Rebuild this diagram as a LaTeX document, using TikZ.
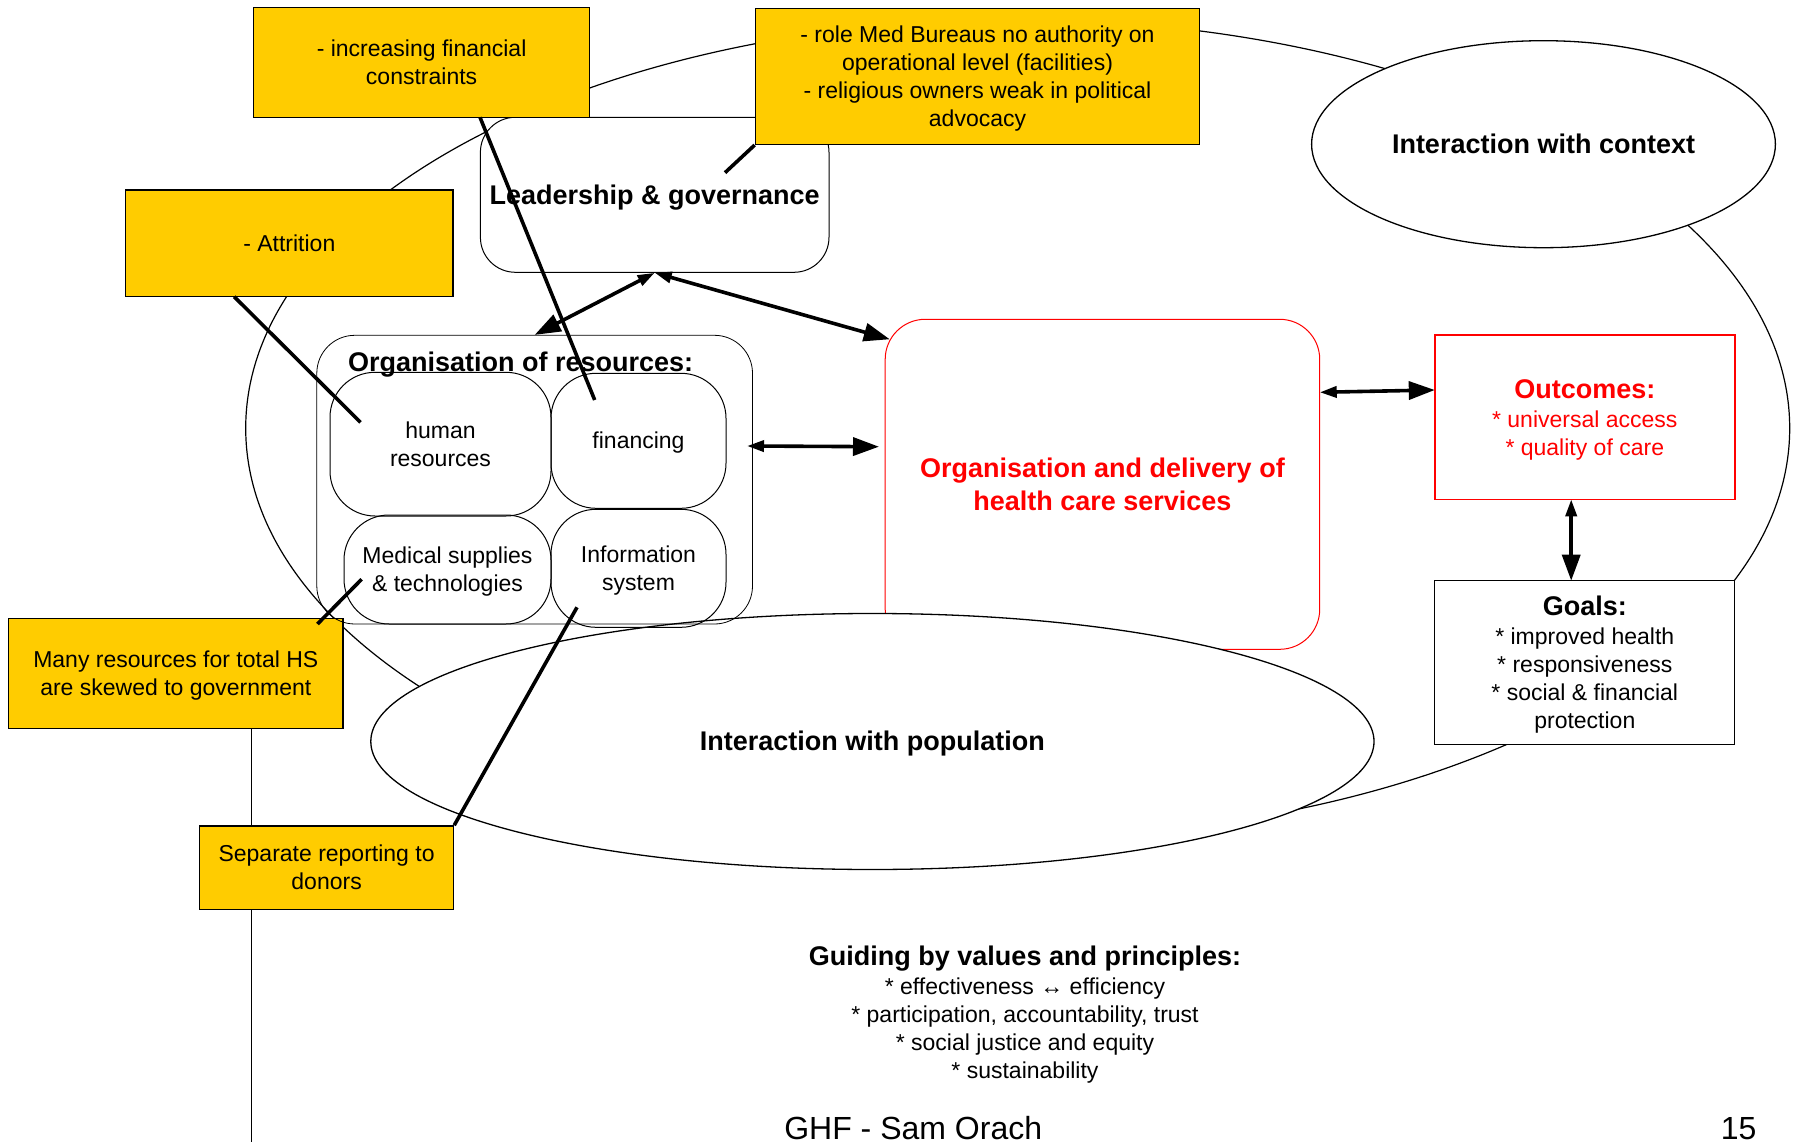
\documentclass[tikz,border=0pt]{standalone}
\usepackage{fontspec}
\setmainfont{Liberation Sans}
\usetikzlibrary{arrows.meta,shapes.geometric}
\definecolor{yel}{HTML}{FFCC00}
\definecolor{myred}{HTML}{FF0000}
\newcommand{\fnormal}{\fontsize{23}{28}\selectfont}
\newcommand{\fhead}{\fontsize{27}{28}\selectfont\bfseries}
\newcommand{\tstrut}{\rule[-0.212em]{0pt}{1.117em}}
\begin{document}
\begin{tikzpicture}[x=1pt,y=-1pt,
  sz/.style 2 args={minimum width=#1pt,minimum height=#2pt},
  ybox/.style={draw=black,line width=1.5pt,fill=yel,inner sep=0pt,align=center,font=\fnormal},
  ibox/.style={draw=black,line width=1pt,rounded corners=45pt,inner sep=0pt,align=center,font=\fnormal},
  conn/.style={line width=3.6pt},
  biarr/.style={line width=3.6pt,{Triangle[length=17pt,width=11pt]}-{Triangle[length=26pt,width=18pt]}},
  thinl/.style={line width=1pt}
]
\useasboundingbox (0,0) rectangle (1800,1142);
\fill[white] (0,0) rectangle (1800,1142);

% outer context ellipse
\node[ellipse,draw,line width=1.2pt,sz={1544}{817.4},inner sep=0pt] (outer) at (1017.7,428.2) {};

% delivery box
\node[draw=myred,line width=1pt,fill=white,rounded corners=40pt,sz={434.5}{330},inner sep=0pt,
      align=center,font=\fontsize{27}{33}\selectfont\bfseries,text=myred] (deliv) at (1102.45,484.3)
      {\tstrut Organisation and delivery of\\health care services\tstrut};

% population ellipse
\node[ellipse,draw,line width=1.3pt,fill=white,sz={1003.2}{256},inner sep=0pt,font=\fhead] (pop) at (872.4,741.5)
      {\tstrut Interaction with population\tstrut};

% leadership
\node[draw,line width=1pt,fill=white,rounded corners=35pt,sz={348.6}{155},inner sep=0pt,font=\fhead] (lead) at (654.7,194.8)
      {\tstrut Leadership \& governance\tstrut};

% yellow boxes
\node[ybox,sz={335.8}{110}] (fin) at (421.6,62.3) {\tstrut - increasing financial\\constraints\tstrut};
\node[ybox,sz={444.2}{136}] (med) at (977.5,76.3) {\tstrut - role Med Bureaus no authority on\\operational level (facilities)\\- religious owners weak in political\\advocacy\tstrut};
\node[ybox,sz={327.2}{106.7}] (attr) at (289.3,243.35) {\tstrut - Attrition\tstrut};
\node[ybox,sz={334.4}{110}] (many) at (175.8,673.3) {\tstrut Many resources for total HS\\are skewed to government\tstrut};
\coordinate (vbot) at (251.4,1142);
\draw[thinl] (many.south -| vbot) -- (vbot);
\node[ybox,sz={253.8}{83.3}] (sep) at (326.6,867.65) {\tstrut Separate reporting to\\donors\tstrut};

% organisation of resources
\node[draw,line width=0.8pt,rounded corners=38pt,sz={435.7}{288.7},inner sep=0pt] (orgres) at (534.65,479.65) {};
\node[font=\fhead,inner sep=0pt] (orgtitle) at (520.6,365) {Organisation of resources:};
\node[ibox,sz={221}{143.7}] (hr) at (440.5,444.15) {\tstrut human\\resources\tstrut};
\node[ibox,sz={175}{135}] (finc) at (638.5,440.8) {\tstrut financing\tstrut};
\node[ibox,sz={207}{109}] (medsup) at (447.5,569.5) {\tstrut Medical supplies\\\& technologies\tstrut};
\node[ibox,sz={175}{118}] (info) at (638.5,568.3) {\tstrut Information\\system\tstrut};

% context ellipse
\node[ellipse,draw,line width=1.3pt,fill=white,sz={463.8}{207},inner sep=0pt,font=\fhead] (ctx) at (1543.5,144.2)
      {\tstrut Interaction with context\tstrut};

% outcomes & goals
\node[draw=myred,line width=1.5pt,fill=white,sz={300}{164.3},inner sep=0pt,align=center,font=\fnormal,text=myred] (outc) at (1584.8,417.15)
      {{\fhead\tstrut Outcomes:}\\[1pt]* universal access\\* quality of care\tstrut};
\node[draw,line width=1.3pt,fill=white,sz={300}{163.6},inner sep=0pt,align=center,font=\fnormal] (goals) at (1584.8,662.5)
      {{\fhead\tstrut Goals:}\\[1pt]* improved health\\* responsiveness\\* social \& financial\\protection\tstrut};

% guiding text
\node[align=center,font=\fnormal,inner sep=0pt] (guide) at (1025,1015)
      {{\fhead Guiding by values and principles:}\\[1pt]* effectiveness ↔ efficiency\\* participation, accountability, trust\\* social justice and equity\\* sustainability};

% footer
\node[font=\fontsize{32}{36}\selectfont,anchor=base,inner sep=0pt] (ghf) at (913.2,1139.5) {GHF - Sam Orach};
\node[font=\fontsize{32}{36}\selectfont,anchor=base east,inner sep=0pt] (pg) at (1756.6,1139.5) {15};

% plain connectors
\coordinate (finA) at (480,117.3);
\coordinate (finB) at (594.7,400);
\draw[conn] (finA) -- (finB);
\coordinate (attA) at (234.2,296.7);
\coordinate (attB) at (360.5,422.3);
\draw[conn] (attA) -- (attB);
\coordinate (medB) at (725,172.7);
\draw[conn] (med.south west) -- (medB);
\coordinate (manyA) at (317.5,624);
\coordinate (manyB) at (361.6,579.3);
\draw[conn] (manyA) -- (manyB);
\coordinate (infoA) at (577,607.3);
\draw[conn] (infoA) -- (sep.north east);

% arrows
\coordinate (delA) at (889.8,339.3);
\draw[biarr] (lead.south) -- (orgres.north);
\draw[biarr] (lead.south) -- (delA);
\coordinate (orA) at (747,446);
\coordinate (orB) at (879,446.7);
\draw[biarr] (orA) -- (orB);
\coordinate (dlA) at (1319.7,392.3);
\coordinate (dlB) at (1434.8,390);
\draw[biarr] (dlA) -- (dlB);
\coordinate (ogA) at (1571.2,499.3);
\coordinate (ogB) at (1571.2,580.7);
\draw[biarr] (ogA) -- (ogB);
\end{tikzpicture}
\end{document}
